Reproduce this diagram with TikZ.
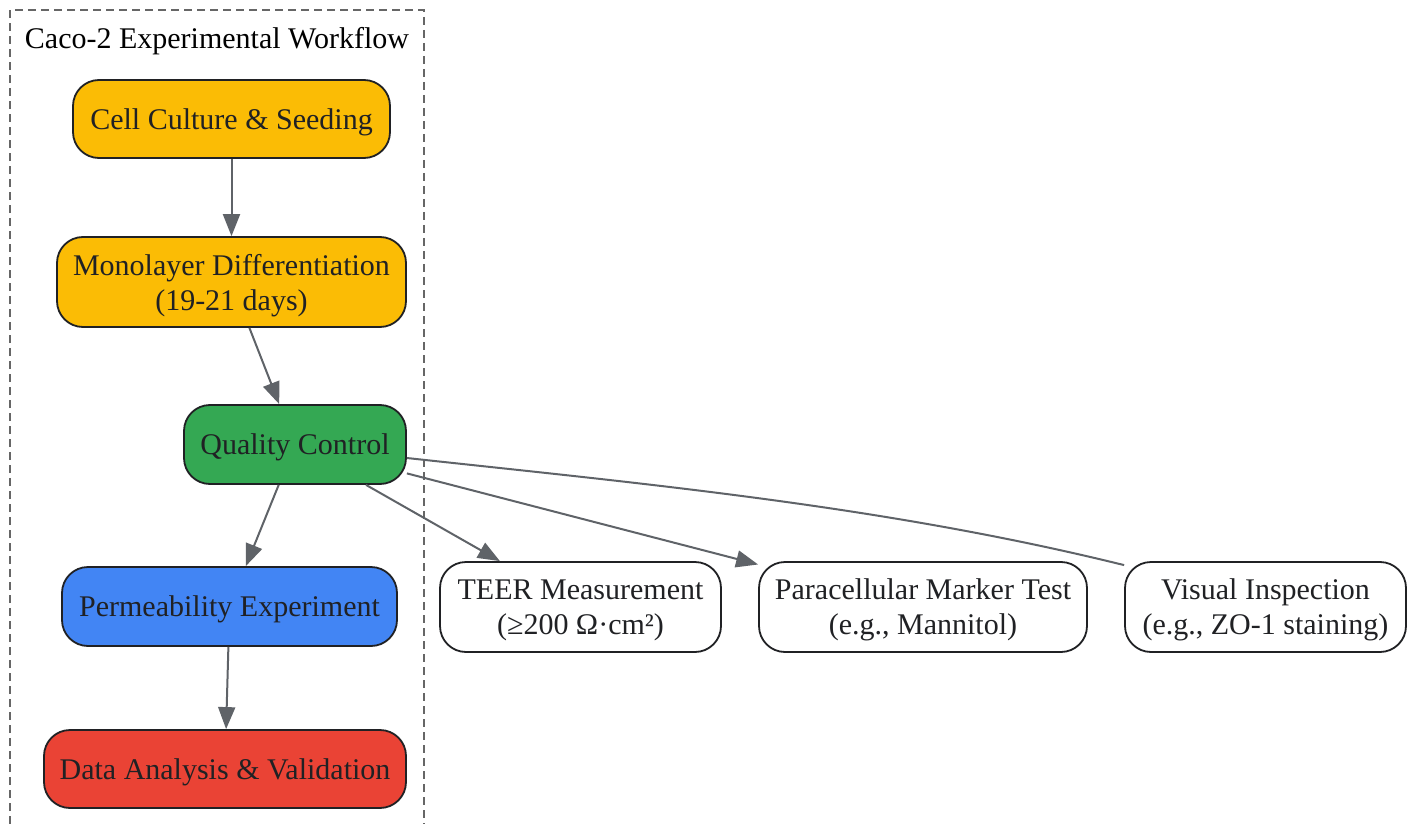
\documentclass[tikz,border=0pt]{standalone}
\usepackage{fontspec}
\setmainfont{Liberation Serif}
\usetikzlibrary{arrows.meta}
\definecolor{cyellow}{HTML}{FBBC05}
\definecolor{cgreen}{HTML}{34A853}
\definecolor{cblue}{HTML}{4285F4}
\definecolor{cred}{HTML}{EA4335}
\definecolor{cborder}{HTML}{202124}
\definecolor{ctext}{HTML}{202124}
\definecolor{cedge}{HTML}{5F6368}
\definecolor{ccluster}{HTML}{666666}
\begin{document}
\begin{tikzpicture}[x=1pt,y=-1pt,
  box/.style={draw=cborder, line width=1.8pt, rounded corners=26pt, align=center, text=ctext,
    font=\fontsize{30}{35}\selectfont, inner sep=0pt, text depth=-1pt},
  edge/.style={draw=cedge, line width=2pt, -{Triangle[length=22pt,width=17pt]}},
  plainedge/.style={draw=cedge, line width=2pt},
  cluster/.style={draw=ccluster, line width=1.8pt, dash pattern=on 8pt off 5pt}]
\useasboundingbox (0,0) rectangle (1414,824);
\draw[cluster] (10,824) -- (10,10) -- (424,10) -- (424,824);
\node[font=\fontsize{30}{35}\selectfont, text=black, inner sep=0pt] (title) at (217,41) {Caco-2 Experimental Workflow};

\node[box, fill=cyellow, minimum width=317pt, minimum height=78pt] (cell) at (231.5,119) {Cell Culture \& Seeding};
\node[box, fill=cyellow, minimum width=349pt, minimum height=90pt] (mono) at (231.5,282) {Monolayer Differentiation\\(19-21 days)};
\node[box, fill=cgreen, minimum width=222pt, minimum height=79pt] (qc) at (295,444.5) {Quality Control};
\node[box, fill=cblue, minimum width=335pt, minimum height=79pt] (perm) at (229.5,606.5) {Permeability Experiment};
\node[box, fill=cred, minimum width=362pt, minimum height=78pt] (data) at (225,769) {Data Analysis \& Validation};
\node[box, fill=white, minimum width=281pt, minimum height=90pt] (teer) at (580.5,607) {TEER Measurement\\(≥200 Ω·cm²)};
\node[box, fill=white, minimum width=328pt, minimum height=90pt] (para) at (923,607) {Paracellular Marker Test\\(e.g., Mannitol)};
\node[box, fill=white, minimum width=281pt, minimum height=90pt] (vis) at (1265.5,607) {Visual Inspection\\(e.g., ZO-1 staining)};

\draw[edge] (cell) -- (mono);
\draw[edge] (mono) -- (qc);
\draw[edge] (qc) -- (perm);
\draw[edge] (perm) -- (data);
\draw[edge] (qc) -- (teer);
\draw[edge] (qc) -- (para);
\draw[plainedge] ([yshift=-13.5pt]qc.east) .. controls (646,484) and (885,506) .. ([yshift=-4pt]vis.north west);
\end{tikzpicture}
\end{document}
